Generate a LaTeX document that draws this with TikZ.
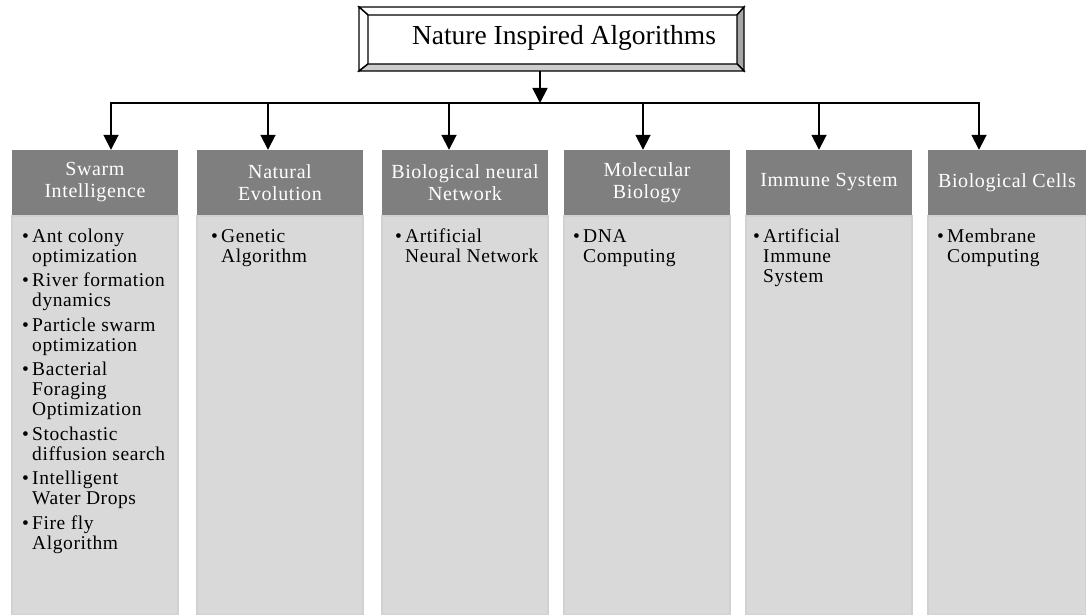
\documentclass[tikz,border=0pt]{standalone}
\usepackage{fontspec}
\setmainfont{Liberation Serif}
\newfontfamily\pix[LetterSpace=3]{Liberation Serif}
\usetikzlibrary{arrows.meta}
\definecolor{hdrgray}{HTML}{7F7F7F}
\definecolor{bodygray}{HTML}{D9D9D9}
\definecolor{bodyedge}{HTML}{D1D1D1}
\definecolor{bevelR}{HTML}{A6A6A6}
\definecolor{bevelB}{HTML}{CCCCCC}
\newcommand\bul{\makebox[10pt][l]{\textbullet}}
\newcommand\ind{\hspace*{10pt}}
\newcommand\fst{\rule{0pt}{14pt}}
\begin{document}
\begin{tikzpicture}[x=1pt,y=-1pt,
  hdr/.style={fill=hdrgray, text=white, minimum width=166pt, minimum height=65pt, inner sep=0pt, align=center, font=\pix\fontsize{20}{22}\selectfont},
  bodybox/.style={fill=bodygray, draw=bodyedge, line width=1.5pt, minimum width=166pt, minimum height=399pt, inner sep=0pt, anchor=north},
  items/.style={anchor=north west, inner sep=0pt, align=left, font=\pix\fontsize{19.5}{20}\selectfont},
  conn/.style={line width=1.8pt},
  tip/.style={-{Triangle[width=15pt,length=15pt]}},
  bevel/.style={draw=black, line width=1.4pt, line join=miter}
]
\useasboundingbox (0,0) rectangle (1086,615);
\fill[white] (0,0) rectangle (1086,615);

% title frame
\coordinate (o1) at (359,7); \coordinate (o2) at (744,7);
\coordinate (o3) at (744,71); \coordinate (o4) at (359,71);
\coordinate (i1) at (368,15); \coordinate (i2) at (737,15);
\coordinate (i3) at (737,64); \coordinate (i4) at (368,64);
\filldraw[bevel, fill=white] (o1) -- (o2) -- (i2) -- (i1) -- cycle;
\filldraw[bevel, fill=white] (o1) -- (i1) -- (i4) -- (o4) -- cycle;
\filldraw[bevel, fill=bevelR] (o2) -- (o3) -- (i3) -- (i2) -- cycle;
\filldraw[bevel, fill=bevelB] (o4) -- (i4) -- (i3) -- (o3) -- cycle;
\node[anchor=base, inner sep=0pt, font=\fontsize{27.5}{30}\selectfont] (title) at (564,45) {Nature Inspired Algorithms};

% headers
\node[hdr] (h1) at (95,182.5) {Swarm\\Intelligence};
\node[hdr] (h2) at (280,182.5) {Natural\\Evolution};
\node[hdr] (h3) at (465,182.5) {Biological neural\\Network};
\node[hdr] (h4) at (647,182.5) {Molecular\\Biology};
\node[hdr] (h5) at (829,182.5) {Immune System};
\node[hdr, minimum width=158pt] (h6) at (1007,182.5) {Biological Cells};

% bodies
\node[bodybox] (b1) at (h1.south) {};
\node[bodybox] (b2) at (h2.south) {};
\node[bodybox] (b3) at (h3.south) {};
\node[bodybox] (b4) at (h4.south) {};
\node[bodybox] (b5) at (h5.south) {};
\node[bodybox, minimum width=158pt] (b6) at (h6.south) {};

% items
\node[items] (t1) at (22,228) {\fst\bul Ant colony\\ \ind optimization\\[4.5pt]
\bul River formation\\ \ind dynamics\\[4.5pt]
\bul Particle swarm\\ \ind optimization\\[4.5pt]
\bul Bacterial\\ \ind Foraging\\ \ind Optimization\\[4.5pt]
\bul Stochastic\\ \ind diffusion search\\[4.5pt]
\bul Intelligent\\ \ind Water Drops\\[4.5pt]
\bul Fire fly\\ \ind Algorithm};
\node[items] (t2) at (211,228) {\fst\bul Genetic\\ \ind Algorithm};
\node[items] (t3) at (395,228) {\fst\bul Artificial\\ \ind Neural Network};
\node[items] (t4) at (573,228) {\fst\bul DNA\\ \ind Computing};
\node[items] (t5) at (753,228) {\fst\bul Artificial\\ \ind Immune\\ \ind System};
\node[items] (t6) at (937,228) {\fst\bul Membrane\\ \ind Computing};

% connectors
\coordinate (tb) at (540,71);
\coordinate (j0) at (540,103);
\coordinate (d1) at (111,103);
\coordinate (d2) at (268,103);
\coordinate (d3) at (449,103);
\coordinate (d4) at (643,103);
\coordinate (d5) at (819,103);
\coordinate (d6) at (979,103);
\draw[conn, tip] (tb) -- (j0);
\draw[conn, {Triangle[width=15pt,length=15pt]}-{Triangle[width=15pt,length=15pt]}] (d1 |- h1.north) -- (d1) -- (d6) -- (d6 |- h6.north);
\draw[conn, tip] (d2) -- (d2 |- h2.north);
\draw[conn, tip] (d3) -- (d3 |- h3.north);
\draw[conn, tip] (d4) -- (d4 |- h4.north);
\draw[conn, tip] (d5) -- (d5 |- h5.north);
\end{tikzpicture}
\end{document}
